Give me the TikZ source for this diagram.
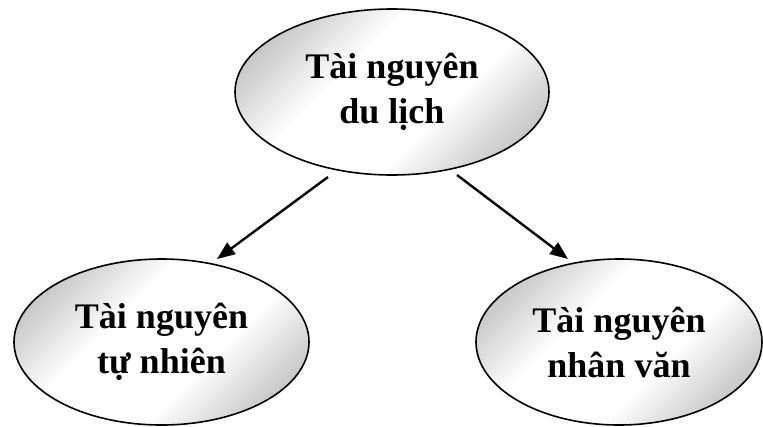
\documentclass[tikz,border=0pt]{standalone}
\usepackage{fontspec}
\setmainfont{Liberation Serif}
\usetikzlibrary{shapes.geometric,arrows.meta}
\pgfdeclareverticalshading{diagband}{100bp}{color(0bp)=(gray!75); color(18bp)=(gray!60);
	color(40bp)=(white); color(60bp)=(white); color(82bp)=(gray!60); color(100bp)=(gray!75)}
\tikzset{
	resource/.style={ellipse,draw=black,line width=1.6pt,
		shading=diagband,shading angle=45,
		align=center,font=\bfseries\fontsize{36}{45}\selectfont,inner sep=0pt},
	link/.style={line width=2.4pt,-{Triangle[length=18pt,width=14pt]}}
}
\begin{document}
\begin{tikzpicture}[x=1pt,y=-1pt]
			\useasboundingbox (0,0) rectangle (763,426);
			\node[resource,minimum width=314pt,minimum height=166pt] (dulich) at (392,92) {Tài nguyên\\du lịch};
			\node[resource,minimum width=295pt,minimum height=166pt] (tunhien) at (161.5,342) {Tài nguyên\\tự nhiên};
			\node[resource,minimum width=286pt,minimum height=166pt] (nhanvan) at (619,342) {Tài nguyên\\nhân văn};
			\coordinate (from1) at ([shift={(-64,85)}]dulich.center);
			\coordinate (to1) at ([shift={(55.5,-83)}]tunhien.center);
			\coordinate (from2) at ([shift={(65,83)}]dulich.center);
			\coordinate (to2) at ([shift={(-51,-83)}]nhanvan.center);
			\draw[link] (from1) -- (to1);
			\draw[link] (from2) -- (to2);
		\end{tikzpicture}
\end{document}
